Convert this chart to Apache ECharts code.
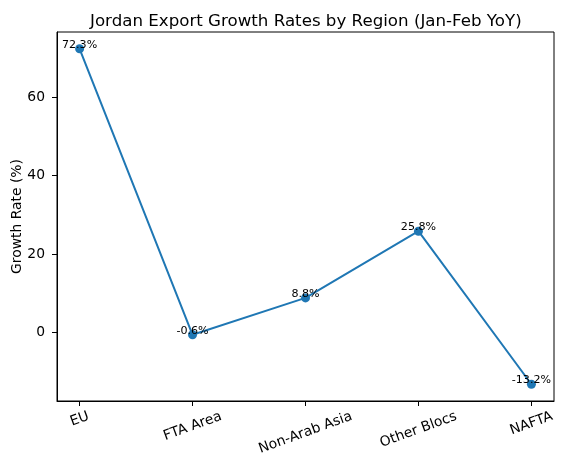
<!DOCTYPE html>
<html>
<head>
<meta charset="utf-8">
<script src="https://cdn.jsdelivr.net/npm/echarts@6/dist/echarts.min.js"></script>
<style>
  html, body { margin: 0; padding: 0; background: #fff; }
  #chart { width: 563px; height: 468px; }
</style>
</head>
<body>
<div id="chart"></div>
<script>
// data
var regions = ["EU", "FTA Area", "Non-Arab Asia", "Other Blocs", "NAFTA"];
var growth = [72.3, -0.6, 8.8, 25.8, -13.2];
var yTicks = [0, 20, 40, 60];

var FONT = "DejaVu Sans";
var BLUE = "#1f77b4";
var TICK_FS = 13.89;

// matplotlib style padding: 5% of data range on each side
var yLo = Math.min.apply(null, growth), yHi = Math.max.apply(null, growth);
var yPad = (yHi - yLo) * 0.05;
var xPad = (regions.length - 1) * 0.05;

// rotated labels are centred on the tick like matplotlib, so push longer ones down
var ctx = document.createElement("canvas").getContext("2d");
ctx.font = TICK_FS + "px '" + FONT + "'";
var rich = {};
regions.forEach(function (r, i) {
  var w = ctx.measureText(r).width;
  rich["l" + i] = {
    fontFamily: FONT, fontSize: TICK_FS, color: "#000",
    padding: [0.321 * w, 0.117 * w, 0, 0]
  };
});

var chart = echarts.init(document.getElementById("chart"));

var option = {
  backgroundColor: "#fff",
  animation: false,
  textStyle: { fontFamily: FONT },
  title: {
    text: "Jordan Export Growth Rates by Region (Jan-Feb YoY)",
    left: 85,
    top: 8,
    textStyle: { fontFamily: FONT, fontSize: 16.67, fontWeight: "normal", color: "#000" }
  },
  grid: {
    left: 57, right: 9, top: 32, bottom: 67,
    outerBoundsMode: "none",
    containLabel: false,
    show: true, borderColor: "#000", borderWidth: 1
  },
  xAxis: {
    type: "value",
    min: -xPad,
    max: regions.length - 1 + xPad,
    splitLine: { show: false },
    axisLine: { onZero: false, lineStyle: { color: "#000", width: 1 } },
    axisTick: { customValues: regions.map(function (r, i) { return i; }), length: 5, lineStyle: { color: "#000" } },
    axisLabel: {
      customValues: regions.map(function (r, i) { return i; }),
      rotate: 20,
      align: "center",
      verticalAlign: "middle",
      margin: 15,
      formatter: function (v) {
        var i = Math.round(v);
        return "{l" + i + "|" + regions[i] + "}";
      },
      rich: rich
    }
  },
  yAxis: {
    type: "value",
    min: yLo - yPad,
    max: yHi + yPad,
    name: "Growth Rate (%)",
    nameLocation: "middle",
    nameRotate: 90,
    nameGap: 33,
    nameMoveOverlap: false,
    nameTextStyle: { fontFamily: FONT, fontSize: TICK_FS, color: "#000" },
    splitLine: { show: false },
    axisLine: { show: true, onZero: false, lineStyle: { color: "#000", width: 1 } },
    axisTick: { show: true, customValues: yTicks, length: 5, lineStyle: { color: "#000" } },
    axisLabel: {
      customValues: yTicks,
      margin: 12,
      fontFamily: FONT, fontSize: TICK_FS, color: "#000"
    }
  },
  series: [{
    type: "line",
    data: growth.map(function (v, i) { return [i, v]; }),
    symbol: "circle",
    symbolSize: 9,
    lineStyle: { color: BLUE, width: 2 },
    itemStyle: { color: BLUE, borderWidth: 0 },
    label: {
      show: true,
      position: "top",
      distance: -6,
      fontFamily: FONT,
      fontSize: 11.1,
      color: "#000",
      formatter: function (p) { return p.value[1] + "%"; }
    }
  }]
};

chart.setOption(option);
</script>
</body>
</html>
